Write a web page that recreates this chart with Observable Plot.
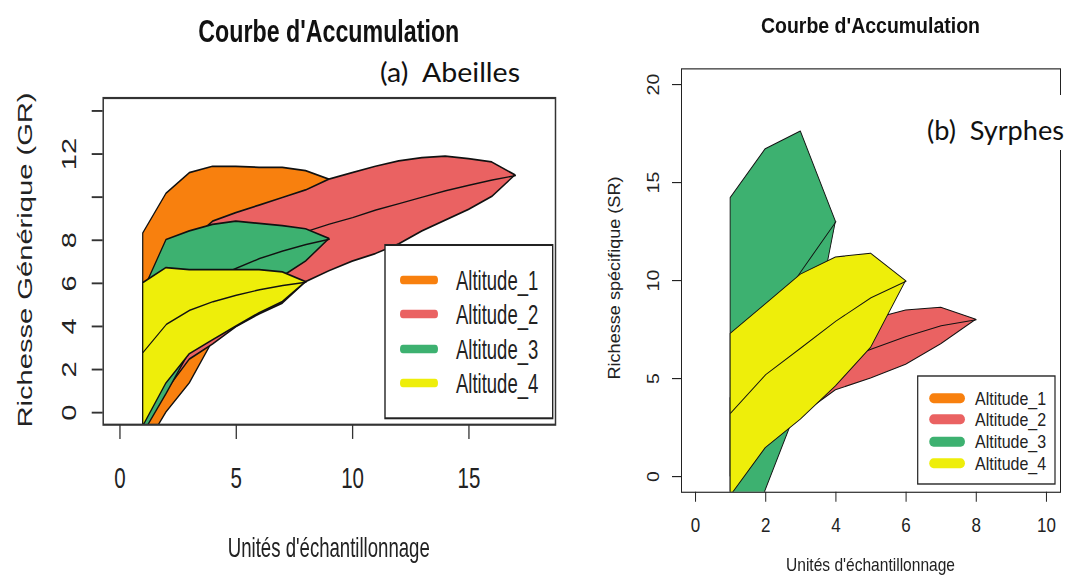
<!DOCTYPE html>
<html><head><meta charset="utf-8">
<script src="https://cdn.jsdelivr.net/npm/d3@7"></script>
<script src="https://cdn.jsdelivr.net/npm/@observablehq/plot@0.6"></script>
<style>
html,body{margin:0;padding:0;background:#fff;width:1073px;height:577px;overflow:hidden;}
.panel{position:absolute;top:0;transform-origin:0 0;}
#overlay{position:absolute;left:0;top:0;}
</style></head><body>
<div id="L" class="panel" style="left:0;width:580px;transform:scaleY(1.45)"></div>
<div id="R" class="panel" style="left:590px;width:483px;transform:scaleY(1.15)"></div>
<svg id="overlay" width="1073" height="577"></svg>
<script>
// ---------- shared ----------
const altitudes = ["Altitude_1", "Altitude_2", "Altitude_3", "Altitude_4"];
const colors = ["#F8800E", "#EA6262", "#3DB170", "#EEEE0A"];
const title = "Courbe d'Accumulation";
const xTitle = "Unités d'échantillonnage";

// ---------- (a) Abeilles ----------
const a_x1 = [1, 2, 3, 4, 5, 6, 7, 8, 9];
const a_lo1 = [-1.8, 0.0, 1.35, 3.3, 5.0, 6.5, 8.0, 9.4, 10.8];
const a_mean1 = [3.0, 5.0, 6.3, 7.3, 8.2, 8.9, 9.6, 10.2, 10.8];
const a_hi1 = [8.3, 10.15, 11.1, 11.4, 11.4, 11.35, 11.35, 11.2, 10.8];

const a_x2 = [1, 2, 3, 4, 5, 6, 7, 8, 9, 10, 11, 12, 13, 14, 15, 16, 17];
const a_lo2 = [-0.3, 1.0, 2.45, 3.15, 3.95, 4.55, 5.05, 6.05, 6.55, 7.0, 7.35, 7.8, 8.4, 8.9, 9.4, 10.0, 11.0];
const a_mean2 = [2.5, 4.0, 5.3, 6.3, 7.0, 7.5, 8.0, 8.4, 8.75, 9.05, 9.4, 9.7, 10.0, 10.3, 10.55, 10.8, 11.0];
const a_hi2 = [4.0, 6.5, 7.9, 8.85, 9.25, 9.6, 9.95, 10.3, 10.8, 11.1, 11.4, 11.65, 11.8, 11.87, 11.75, 11.6, 11.0];

const a_x3 = [1, 2, 3, 4, 5, 6, 7, 8, 9];
const a_lo3 = [-1.0, 0.85, 2.8, 3.6, 4.4, 5.2, 6.3, 7.0, 8.05];
const a_mean3 = [3.2, 4.7, 5.6, 6.2, 6.7, 7.15, 7.5, 7.8, 8.05];
const a_hi3 = [5.6, 8.0, 8.4, 8.7, 8.85, 8.75, 8.65, 8.5, 8.05];

const a_x4 = [1, 2, 3, 4, 5, 6, 7, 8];
const a_lo4 = [-0.65, 1.35, 2.7, 3.35, 3.98, 4.6, 5.12, 6.05];
const a_mean4 = [2.8, 4.1, 4.75, 5.15, 5.45, 5.7, 5.9, 6.05];
const a_hi4 = [6.0, 6.7, 6.6, 6.6, 6.6, 6.6, 6.5, 6.05];

const a_xTicks = [0, 5, 10, 15];
const a_yTicks = [0, 2, 4, 6, 8, 10, 12, 14];
const a_yLabels = ["0", "2", "4", "6", "8", "", "12", ""];
const a_yTitle = "Richesse Générique (GR)";
const a_tag = "(a)\u00A0\u00A0Abeilles";

// ---------- (b) Syrphes ----------
const b_x1 = [], b_lo1 = [], b_mean1 = [], b_hi1 = [];

const b_x2 = [1, 2, 3, 4, 5, 6, 7, 8];
const b_lo2 = [0.0, 1.8, 3.1, 4.4, 5.0, 5.7, 6.75, 8.0];
const b_mean2 = [2.0, 3.5, 4.8, 5.8, 6.5, 7.15, 7.7, 8.0];
const b_hi2 = [4.0, 5.8, 7.0, 7.6, 8.0, 8.47, 8.61, 8.0];

const b_x3 = [1, 2, 3, 4];
const b_lo3 = [-5.0, -0.7, 3.9, 13.0];
const b_mean3 = [5.0, 7.8, 10.45, 13.0];
const b_hi3 = [14.2, 16.7, 17.6, 13.0];

const b_x4 = [1, 2, 3, 4, 5, 6];
const b_lo4 = [-1.0, 1.45, 2.9, 4.6, 6.56, 9.97];
const b_mean4 = [3.24, 5.2, 6.56, 7.93, 9.12, 9.97];
const b_hi4 = [7.28, 8.78, 10.3, 11.17, 11.37, 9.97];

const b_xTicks = [0, 2, 4, 6, 8, 10];
const b_yTicks = [0, 5, 10, 15, 20];
const b_yLabels = ["0", "5", "10", "15", "20"];
const b_yTitle = "Richesse spécifique (SR)";
const b_tag = "(b)\u00A0\u00A0Syrphes";

function rowsOf(x, lo, mean, hi) {
  return x.map((v, j) => ({x: v, lo: lo[j], mean: mean[j], hi: hi[j]}));
}

function makePanel(cfg) {
  const marks = [];
  cfg.series.forEach((s, i) => {
    if (!s.length) return;
    marks.push(Plot.areaY(s, {x: "x", y1: "lo", y2: "hi", fill: colors[i], stroke: "#111", strokeWidth: cfg.polyW, clip: true}));
    marks.push(Plot.lineY(s, {x: "x", y: "mean", stroke: "#111", strokeWidth: cfg.lineW, clip: true}));
  });
  marks.push(Plot.frame({stroke: cfg.frameColor, strokeWidth: cfg.frameW}));
  marks.push(Plot.axisX({ticks: cfg.xTicks, tickSize: cfg.xTickSize, tickFormat: () => "", label: null, stroke: cfg.frameColor, strokeWidth: cfg.tickW}));
  marks.push(Plot.axisY({ticks: cfg.yTicks, tickSize: cfg.yTickSize, tickFormat: () => "", label: null, stroke: cfg.frameColor, strokeWidth: cfg.tickW}));
  marks.push(Plot.text(cfg.xTicks, {x: d => d, text: d => String(d), frameAnchor: "bottom", dy: cfg.xLabDy, lineAnchor: "middle", textAnchor: "middle", fontSize: cfg.xTickFont, fill: "#222"}));
  marks.push(Plot.text(cfg.yTicks, {y: d => d, text: (d, i) => cfg.yLabels[i], frameAnchor: "left", dx: cfg.yLabDx, rotate: -90, lineAnchor: "middle", textAnchor: "middle", fontSize: cfg.yTickFont, fill: "#222"}));

  const svgEl = Plot.plot({
    width: cfg.width, height: cfg.height,
    marginLeft: cfg.mL, marginRight: cfg.mR, marginTop: cfg.mT, marginBottom: cfg.mB,
    x: {domain: cfg.xDomain, label: null},
    y: {domain: cfg.yDomain, label: null},
    style: {fontFamily: "'Liberation Sans', Arial, sans-serif", color: "#222", background: "white", overflow: "visible"},
    marks
  });
  const svg = d3.select(svgEl);
  // title
  svg.append("text").attr("x", cfg.titleX).attr("y", cfg.titleY)
    .attr("text-anchor", "middle").attr("font-weight", "bold").attr("font-size", cfg.titleFont)
    .attr("textLength", cfg.titleLen).attr("lengthAdjust", "spacingAndGlyphs").attr("fill", "#111")
    .text(title);
  // x title
  svg.append("text").attr("x", cfg.xtX).attr("y", cfg.xtY)
    .attr("text-anchor", "middle").attr("font-size", cfg.xtFont)
    .attr("textLength", cfg.xtLen).attr("lengthAdjust", "spacingAndGlyphs").attr("fill", "#222")
    .text(xTitle);
  // y title
  svg.append("text").attr("transform", `translate(${cfg.ytX},${cfg.ytY}) rotate(-90)`)
    .attr("text-anchor", "middle").attr("font-size", cfg.ytFont)
    .attr("textLength", cfg.ytLen).attr("lengthAdjust", "spacingAndGlyphs").attr("fill", "#222")
    .text(cfg.yTitle);
  // legend
  const lg = cfg.legend;
  svg.append("rect").attr("x", lg.x).attr("y", lg.y).attr("width", lg.w).attr("height", lg.h)
    .attr("fill", "white").attr("stroke", "#222").attr("stroke-width", lg.sw);
  altitudes.forEach((name, i) => {
    svg.append("line").attr("x1", lg.sx1).attr("x2", lg.sx2).attr("y1", lg.ys[i]).attr("y2", lg.ys[i])
      .attr("stroke", colors[i]).attr("stroke-width", lg.thick).attr("stroke-linecap", "round");
    svg.append("text").attr("x", lg.tx).attr("y", lg.ys[i]).attr("dy", "0.36em")
      .attr("text-anchor", "start").attr("font-size", lg.font).attr("fill", "#222").text(name);
  });
  return svgEl;
}

const sL = 1.45, sR = 1.15;

document.getElementById("L").appendChild(makePanel({
  series: [rowsOf(a_x1, a_lo1, a_mean1, a_hi1), rowsOf(a_x2, a_lo2, a_mean2, a_hi2),
           rowsOf(a_x3, a_lo3, a_mean3, a_hi3), rowsOf(a_x4, a_lo4, a_mean4, a_hi4)],
  width: 580, height: 577 / sL,
  mL: 102.7, mR: 25, mT: 97.3 / sL, mB: 577 / sL - 424 / sL,
  xDomain: [-0.72, 18.72], yDomain: [-0.56, 14.6],
  xTicks: a_xTicks, yTicks: a_yTicks, yLabels: a_yLabels,
  xTickSize: 10.3, yTickSize: 11, tickW: 1.3,
  xLabDy: 477.5 / sL - 424 / sL, yLabDx: 69 - 102.7,
  xTickFont: 20.5, yTickFont: 20,
  polyW: 1.2, lineW: 1.0, frameColor: "#333", frameW: 1.5,
  titleX: 328.8, titleY: 41.7 / sL, titleFont: 21, titleLen: 261,
  xtX: 328.8, xtY: 556.7 / sL, xtFont: 19.3, xtLen: 202,
  ytX: 31.5, ytY: 260 / sL, ytFont: 21, ytLen: 335 / sL, yTitle: a_yTitle,
  legend: {x: 385, y: 245 / sL, w: 167.7, h: (418.3 - 245) / sL, sw: 1.4,
           ys: [280 / sL, 314 / sL, 349 / sL, 383 / sL],
           sx1: 403, sx2: 435, thick: 6, tx: 456, font: 18.5}
}));

document.getElementById("R").appendChild(makePanel({
  series: [rowsOf(b_x1, b_lo1, b_mean1, b_hi1), rowsOf(b_x2, b_lo2, b_mean2, b_hi2),
           rowsOf(b_x3, b_lo3, b_mean3, b_hi3), rowsOf(b_x4, b_lo4, b_mean4, b_hi4)],
  width: 483, height: 577 / sR,
  mL: 91, mR: 13, mT: 68.3 / sR, mB: 577 / sR - 491.7 / sR,
  xDomain: [-0.4, 10.4], yDomain: [-0.8, 20.8],
  xTicks: b_xTicks, yTicks: b_yTicks, yLabels: b_yLabels,
  xTickSize: 8.7, yTickSize: 9, tickW: 1,
  xLabDy: 525 / sR - 491.7 / sR, yLabDx: 63.3 - 91,
  xTickFont: 17, yTickFont: 17,
  polyW: 0.9, lineW: 0.9, frameColor: "#222", frameW: 1,
  titleX: 280.5, titleY: 33.3 / sR, titleFont: 19.5, titleLen: 219,
  xtX: 280.5, xtY: 571.5 / sR, xtFont: 16, xtLen: 169,
  ytX: 29.6, ytY: 278 / sR, ytFont: 16, ytLen: 203 / sR, yTitle: b_yTitle,
  legend: {x: 327.7, y: 376 / sR, w: 137.3, h: (484 - 376) / sR, sw: 1.2,
           ys: [398.3 / sR, 419.3 / sR, 441.7 / sR, 463.3 / sR],
           sx1: 343.6, sx2: 370.6, thick: 8.7, tx: 385, font: 16}
}));

// ---------- overlay tags ----------
const ov = d3.select("#overlay");
ov.append("rect").attr("x", 375).attr("y", 52).attr("width", 185).attr("height", 44).attr("fill", "white");
ov.append("text").attr("x", 380).attr("y", 82).attr("font-family", "Lato, 'Open Sans', sans-serif")
  .attr("font-size", 27.5).attr("textLength", 140).attr("lengthAdjust", "spacingAndGlyphs").attr("fill", "#111").text(a_tag);
ov.append("rect").attr("x", 920).attr("y", 95).attr("width", 153).attr("height", 55).attr("fill", "white");
ov.append("text").attr("x", 927).attr("y", 139.5).attr("font-family", "Lato, 'Open Sans', sans-serif")
  .attr("font-size", 27.5).attr("textLength", 137).attr("lengthAdjust", "spacingAndGlyphs").attr("fill", "#111").text(b_tag);
</script>
</body></html>
